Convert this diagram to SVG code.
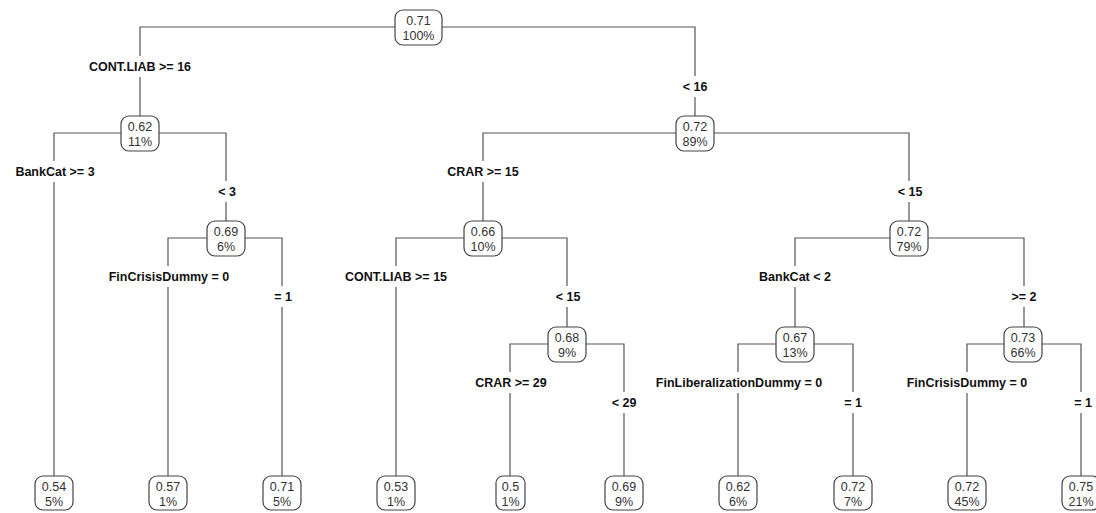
<svg xmlns="http://www.w3.org/2000/svg" width="1096" height="513" viewBox="0 0 1096 513">
<style>
.bg{fill:#fff}
.c{fill:none;stroke:#555;stroke-width:1.2}
.box{fill:#fff;stroke:#444;stroke-width:1.2}
.nt{font-family:"Liberation Sans",Arial,sans-serif;font-size:12.5px;fill:#333;text-anchor:middle}
.lb{font-family:"Liberation Sans",Arial,sans-serif;font-size:12.5px;font-weight:bold;fill:#111;text-anchor:middle}
</style>
<rect class="bg" x="0" y="0" width="1096" height="513"/>
<g id="connectors">
<path class="c" d="M395,27 H140 V56 M140,77 V116"/>
<path class="c" d="M442,27 H695 V76 M695,97 V116"/>
<path class="c" d="M121,133 H54 V161 M54,182 V476"/>
<path class="c" d="M159,133 H226 V181 M226,202 V221"/>
<path class="c" d="M207,238 H168 V266 M168,287 V476"/>
<path class="c" d="M245,238 H282 V286 M282,307 V476"/>
<path class="c" d="M676,133 H483 V161 M483,182 V221"/>
<path class="c" d="M714,133 H909 V181 M909,202 V221"/>
<path class="c" d="M464,238 H396 V266 M396,287 V476"/>
<path class="c" d="M502,238 H567 V286 M567,307 V327"/>
<path class="c" d="M548,344 H510 V372 M510,393 V476"/>
<path class="c" d="M586,344 H624 V392 M624,413 V476"/>
<path class="c" d="M890,238 H795 V266 M795,287 V327"/>
<path class="c" d="M928,238 H1024 V286 M1024,307 V327"/>
<path class="c" d="M776,344 H738 V372 M738,393 V476"/>
<path class="c" d="M814,344 H853 V392 M853,413 V476"/>
<path class="c" d="M1004,344 H967 V372 M967,393 V476"/>
<path class="c" d="M1042,344 H1081 V392 M1081,413 V476"/>
</g>
<g id="labels">
<text class="lb" x="140" y="71">CONT.LIAB &gt;= 16</text>
<text class="lb" x="695" y="91">&lt; 16</text>
<text class="lb" x="55" y="176">BankCat &gt;= 3</text>
<text class="lb" x="227" y="196">&lt; 3</text>
<text class="lb" x="169" y="281">FinCrisisDummy = 0</text>
<text class="lb" x="283" y="301">= 1</text>
<text class="lb" x="483" y="176">CRAR &gt;= 15</text>
<text class="lb" x="910" y="196">&lt; 15</text>
<text class="lb" x="396" y="281">CONT.LIAB &gt;= 15</text>
<text class="lb" x="568" y="301">&lt; 15</text>
<text class="lb" x="511" y="387">CRAR &gt;= 29</text>
<text class="lb" x="624" y="407">&lt; 29</text>
<text class="lb" x="795" y="281">BankCat &lt; 2</text>
<text class="lb" x="1024" y="301">&gt;= 2</text>
<text class="lb" x="739" y="387">FinLiberalizationDummy = 0</text>
<text class="lb" x="853" y="407">= 1</text>
<text class="lb" x="967" y="387">FinCrisisDummy = 0</text>
<text class="lb" x="1083" y="407">= 1</text>
</g>
<g id="n_root"><rect class="box" x="395" y="10" width="47" height="35" rx="8"/><text class="nt" x="418.5" y="25">0.71</text><text class="nt" x="418.5" y="40">100%</text></g>
<g id="n_062"><rect class="box" x="121" y="116" width="38" height="35" rx="8"/><text class="nt" x="140" y="131">0.62</text><text class="nt" x="140" y="146">11%</text></g>
<g id="n_072a"><rect class="box" x="676" y="116" width="38" height="35" rx="8"/><text class="nt" x="695" y="131">0.72</text><text class="nt" x="695" y="146">89%</text></g>
<g id="n_069"><rect class="box" x="207" y="221" width="38" height="35" rx="8"/><text class="nt" x="226" y="236">0.69</text><text class="nt" x="226" y="251">6%</text></g>
<g id="n_066"><rect class="box" x="464" y="221" width="38" height="35" rx="8"/><text class="nt" x="483" y="236">0.66</text><text class="nt" x="483" y="251">10%</text></g>
<g id="n_072b"><rect class="box" x="890" y="221" width="38" height="35" rx="8"/><text class="nt" x="909" y="236">0.72</text><text class="nt" x="909" y="251">79%</text></g>
<g id="n_068"><rect class="box" x="548" y="327" width="38" height="35" rx="8"/><text class="nt" x="567" y="342">0.68</text><text class="nt" x="567" y="357">9%</text></g>
<g id="n_067"><rect class="box" x="776" y="327" width="38" height="35" rx="8"/><text class="nt" x="795" y="342">0.67</text><text class="nt" x="795" y="357">13%</text></g>
<g id="n_073"><rect class="box" x="1004" y="327" width="38" height="35" rx="8"/><text class="nt" x="1023" y="342">0.73</text><text class="nt" x="1023" y="357">66%</text></g>
<g id="leaf_054"><rect class="box" x="35" y="476" width="38" height="34" rx="8"/><text class="nt" x="54" y="491">0.54</text><text class="nt" x="54" y="506">5%</text></g>
<g id="leaf_057"><rect class="box" x="149" y="476" width="38" height="34" rx="8"/><text class="nt" x="168" y="491">0.57</text><text class="nt" x="168" y="506">1%</text></g>
<g id="leaf_071"><rect class="box" x="263" y="476" width="38" height="34" rx="8"/><text class="nt" x="282" y="491">0.71</text><text class="nt" x="282" y="506">5%</text></g>
<g id="leaf_053"><rect class="box" x="377" y="476" width="38" height="34" rx="8"/><text class="nt" x="396" y="491">0.53</text><text class="nt" x="396" y="506">1%</text></g>
<g id="leaf_05"><rect class="box" x="496" y="476" width="29" height="34" rx="7"/><text class="nt" x="510.5" y="491">0.5</text><text class="nt" x="510.5" y="506">1%</text></g>
<g id="leaf_069"><rect class="box" x="605" y="476" width="38" height="34" rx="8"/><text class="nt" x="624" y="491">0.69</text><text class="nt" x="624" y="506">9%</text></g>
<g id="leaf_062"><rect class="box" x="719" y="476" width="38" height="34" rx="8"/><text class="nt" x="738" y="491">0.62</text><text class="nt" x="738" y="506">6%</text></g>
<g id="leaf_072a"><rect class="box" x="834" y="476" width="38" height="34" rx="8"/><text class="nt" x="853" y="491">0.72</text><text class="nt" x="853" y="506">7%</text></g>
<g id="leaf_072b"><rect class="box" x="948" y="476" width="38" height="34" rx="8"/><text class="nt" x="967" y="491">0.72</text><text class="nt" x="967" y="506">45%</text></g>
<g id="leaf_075"><rect class="box" x="1062" y="476" width="38" height="34" rx="8"/><text class="nt" x="1081" y="491">0.75</text><text class="nt" x="1081" y="506">21%</text></g>
</svg>
